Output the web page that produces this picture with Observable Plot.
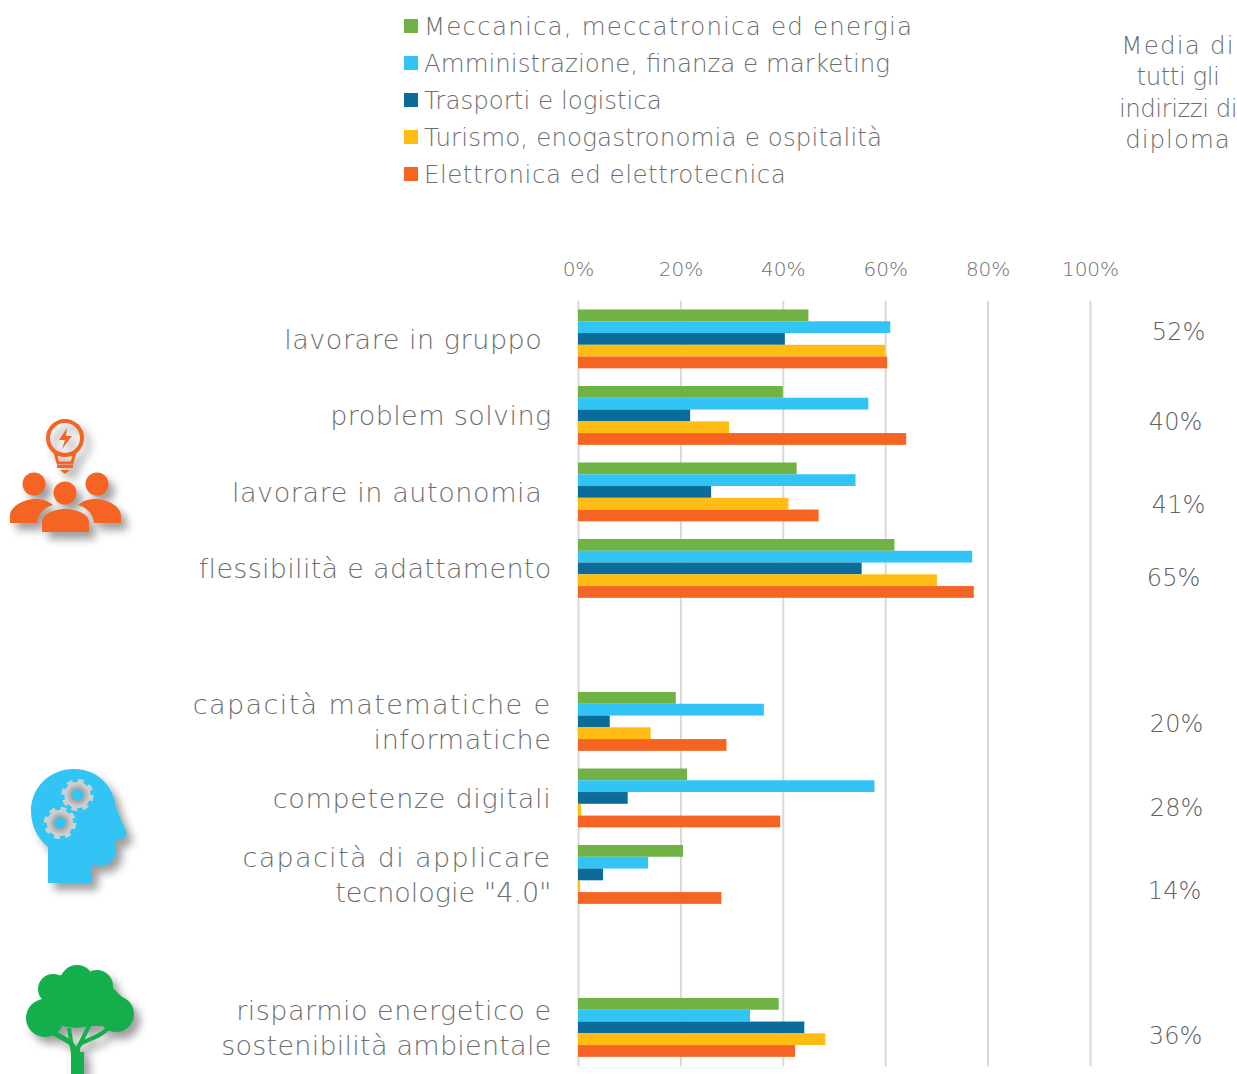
<!DOCTYPE html>
<html lang="it">
<head>
<meta charset="utf-8">
<script src="https://cdn.jsdelivr.net/npm/d3@7"></script>
<script src="https://cdn.jsdelivr.net/npm/@observablehq/plot@0.6"></script>
<style>
  html,body{margin:0;padding:0;background:#fff;overflow:hidden;width:1237px;height:1074px;position:relative;}
  body{font-family:"DejaVu Sans",sans-serif;color:#6c6e71;}
  #head{position:relative;height:250px;width:1237px;}
  #legend{position:absolute;left:404px;top:7.500px;font-size:24.500px;line-height:37px;font-weight:200;}
  #legend div{display:flex;align-items:center;height:37px;white-space:nowrap;}
  #legend i{display:block;width:14px;height:14px;margin-right:6px;flex:none;}
  #media{position:absolute;left:1098px;width:160px;top:30px;text-align:center;font-size:24.500px;line-height:31.3px;font-weight:200;}
  #media span{display:block;white-space:nowrap;}
  #chart svg{display:block;overflow:visible;}
  #chart text{font-family:"DejaVu Sans",sans-serif;font-weight:200;}
  .icon{position:absolute;left:0;top:0;pointer-events:none;filter:drop-shadow(6px 7px 4px rgba(0,0,0,.38));}
</style>
</head>
<body>
<div id="head"><div id="legend"></div><div id="media"></div></div>
<div id="chart"></div>

<svg class="icon" width="150" height="560" viewBox="0 0 150 560" fill="#F56423">
  <circle cx="65" cy="438" r="17" fill="none" stroke="#F56423" stroke-width="4"/>
  <path d="M55 452 L58 463 H72 L75 452" fill="none" stroke="#F56423" stroke-width="3"/>
  <path d="M57 465H73V468H57ZM60 470H70L65 474Z"/>
  <path d="M67 428 L59 440 H65 L62 449 L72 436 H66 Z"/>
  <circle cx="34" cy="484" r="11.5"/><circle cx="97" cy="484" r="11.5"/><circle cx="65" cy="493" r="11.5"/>
  <path d="M10 523V516C10 506 24 499 36 499C43 499 48 501 53 505C44 508 38 513 37 523Z"/>
  <path d="M121 523V516C121 506 107 499 95 499C88 499 83 501 78 505C87 508 93 513 94 523Z"/>
  <path d="M42 532V522C42 514 54 509 65 509C76 509 89 514 89 522V532Z"/>
</svg>
<svg class="icon" width="150" height="900" viewBox="0 0 150 900">
  <defs><radialGradient id="gearFill"><stop offset="35%" stop-color="#9b9b9b"/><stop offset="100%" stop-color="#d8d8d8"/></radialGradient></defs>
  <path fill="#32C4F5" d="M48 883V847C37 838 31 825 31 811C31 787 50 769 74 769C97 769 114 786 116 808L126 831C128 836 124 840 116 840V850C116 860 108 866 100 866H92V883Z"/>
  <g fill="url(#gearFill)">
    <circle cx="77.500" cy="795" r="13"/><circle cx="77.500" cy="795" r="14.500" fill="none" stroke="#cfcfcf" stroke-width="3.500" stroke-dasharray="6 5.400"/>
    <circle cx="60" cy="823" r="13"/><circle cx="60" cy="823" r="14.500" fill="none" stroke="#cfcfcf" stroke-width="3.500" stroke-dasharray="6 5.400"/>
  </g>
  <circle cx="77.500" cy="795" r="5.500" fill="#32C4F5"/><circle cx="60" cy="823" r="5.500" fill="#32C4F5"/>
</svg>
<svg class="icon" width="150" height="1074" viewBox="0 0 150 1074" fill="#14AE4C">
  <circle cx="77" cy="982" r="17"/><circle cx="53" cy="989" r="15"/><circle cx="97" cy="986" r="16"/>
  <circle cx="45" cy="1018" r="19"/><circle cx="116" cy="1014" r="18"/>
  <path d="M45 999 L60 975 H100 L125 1000 L108 1026 L92 1026 L75 1028 L62 1026 Z"/>
  <path d="M77 1074C77 1055 76 1046 68 1041L54 1033" fill="none" stroke="#14AE4C" stroke-width="5"/>
  <path d="M78 1074V1048C78 1040 100 1040 110 1026" fill="none" stroke="#14AE4C" stroke-width="4"/>
  <path d="M74 1060L69 1028M78 1048L90 1024" fill="none" stroke="#14AE4C" stroke-width="4"/>
  <path d="M71 1074H84V1052H71Z"/>
</svg>

<script>
const seriesNames = ["Meccanica, meccatronica ed energia","Amministrazione, finanza e marketing","Trasporti e logistica","Turismo, enogastronomia e ospitalità","Elettronica ed elettrotecnica"];
const seriesColors = ["#70B244","#32C4F5","#0B6C99","#FFBC12","#F56423"];
const skills = ["lavorare in gruppo\u00a0","problem solving","lavorare in autonomia\u00a0","flessibilità e adattamento","capacità matematiche e\ninformatiche","competenze digitali","capacità di applicare\ntecnologie \"4.0\"","risparmio energetico e\nsostenibilità ambientale"];
const rowSlots = [0,1,2,3,5,6,7,9];
const meccanica = [45,40,42.7,61.8,19.1,21.3,20.5,39.2];
const amministrazione = [61,56.7,54.2,77,36.3,57.9,13.7,33.6];
const trasporti = [40.4,21.9,26,55.4,6.2,9.7,4.9,44.2];
const turismo = [60,29.5,41.1,70.1,14.2,0.6,0.4,48.3];
const elettronica = [60.4,64.1,47,77.3,29,39.5,28,42.4];
const mediaTutti = [52,40,41,65,20,28,14,36];
const xTicks = [0,20,40,60,80,100];
const mediaTitle = ["Media di","tutti gli","indirizzi di","diploma"];
// typographic fitting: the substitute font needs per-line tracking (px) to reach the reference's text widths
const legendTracking = [1.2,0,0,0.15,0.5];
const mediaTracking = [1.2,-0.5,-0.5,1];
const lineTracking = {"lavorare in gruppo\u00a0":0.55,"problem solving":0.4,"lavorare in autonomia\u00a0":0.6,"flessibilità e adattamento":0.3,"capacità matematiche e":1.4,"informatiche":0.6,"competenze digitali":0.7,"capacità di applicare":1.35,"tecnologie \"4.0\"":0,"risparmio energetico e":0.5,"sostenibilità ambientale":0.25};
// placement of the hand-set averages column, relative to each row centre (px)
const mediaNudgeX = [1,-2,1,-4,-1,-1,-3,-2];
const mediaNudgeY = [-7,6,13,9,2,10,16,8];

const allSeries = [meccanica,amministrazione,trasporti,turismo,elettronica];
const bars = allSeries.flatMap((vals,s)=>vals.map((v,i)=>({series:seriesNames[s],value:v,y1:rowSlots[i]*6.5+s,y2:rowSlots[i]*6.5+s+1})));
const rows = skills.map((label,i)=>({label,y:rowSlots[i]*6.5+2.5,media:mediaTutti[i]}));

d3.select("#legend").selectAll("div").data(seriesNames).join("div")
  .html((d,i)=>`<i style="background:${seriesColors[i]}"></i><span style="letter-spacing:${legendTracking[i]}px">${d}</span>`);
d3.select("#media").selectAll("span").data(mediaTitle).join("span")
  .style("letter-spacing",(d,i)=>mediaTracking[i]+"px").text(d=>d);

const gray = "#6c6e71";
const chart = Plot.plot({
  width:1237, height:824,
  marginTop:59, marginBottom:0, marginLeft:0, marginRight:0,
  style:{background:"transparent",color:gray},
  x:{domain:[0,100],range:[578,1090],axis:null},
  y:{domain:[0,65],range:[59.5,824.5],axis:null},
  color:{domain:seriesNames,range:seriesColors},
  marks:[
    Plot.ruleX(xTicks,{x:d=>d,y1:()=>-0.75,y2:()=>64.3,stroke:"#d9d9d9",strokeWidth:2}),
    Plot.rectX(bars,{x1:()=>0,x2:"value",y1:"y1",y2:"y2",fill:"series",inset:0}),
    Plot.axisX(xTicks,{anchor:"top",tickSize:0,tickPadding:33.5,tickFormat:d=>d+"%",fontSize:20,fill:gray,label:null}),
    Plot.text(rows,{x:()=>0,y:"y",text:"label",textAnchor:"end",dx:-27,dy:-1.5,fontSize:27,lineHeight:1.28,fill:gray}),
    ...rows.map((r,i)=>Plot.text([r],{x:()=>117,y:"y",text:d=>d.media+"%",dx:mediaNudgeX[i],dy:mediaNudgeY[i],fontSize:24,fill:"#5f6164"}))
  ]
});
chart.querySelectorAll("text, tspan").forEach(el=>{
  const t = lineTracking[el.textContent];
  if (t !== undefined) el.style.letterSpacing = t+"px";
});
document.getElementById("chart").appendChild(chart);
</script>
</body>
</html>
